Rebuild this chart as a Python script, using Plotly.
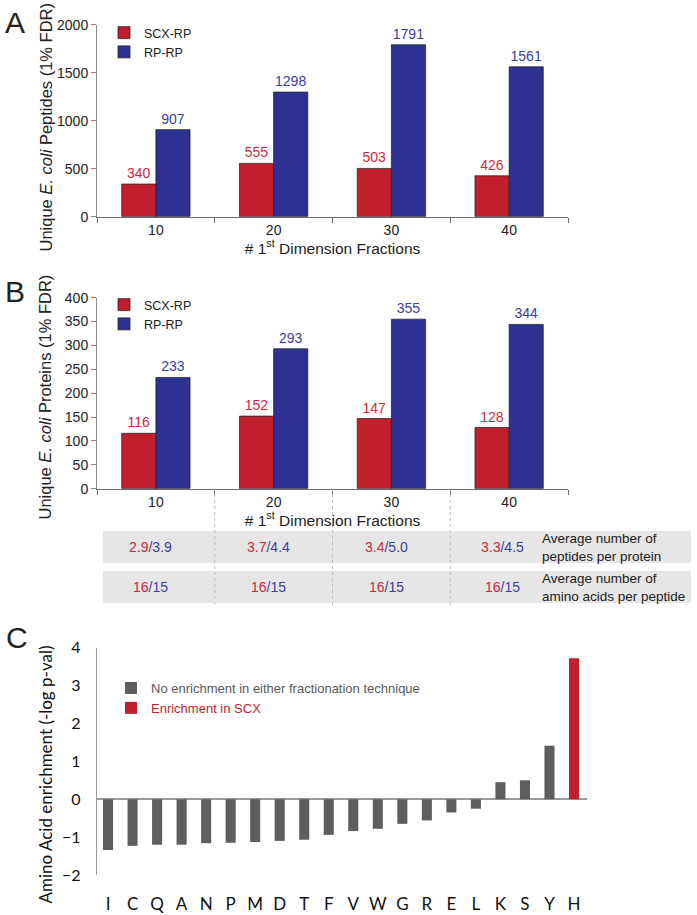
import plotly.graph_objects as go

# ---------------- data ----------------
fractions = ["10", "20", "30", "40"]
peptides_scx = [340, 555, 503, 426]
peptides_rp = [907, 1298, 1791, 1561]
proteins_scx = [116, 152, 147, 128]
proteins_rp = [233, 293, 355, 344]
pep_per_prot_scx = ["2.9", "3.7", "3.4", "3.3"]
pep_per_prot_rp = ["3.9", "4.4", "5.0", "4.5"]
aa_per_pep_scx = ["16", "16", "16", "16"]
aa_per_pep_rp = ["15", "15", "15", "15"]
table_row_labels = ["Average number of<br>peptides per protein",
                    "Average number of<br>amino acids per peptide"]

amino_acids = ["I", "C", "Q", "A", "N", "P", "M", "D", "T", "F",
               "V", "W", "G", "R", "E", "L", "K", "S", "Y", "H"]
enrichment = [-1.34, -1.23, -1.20, -1.20, -1.16, -1.15, -1.13, -1.10, -1.07, -0.94,
              -0.84, -0.78, -0.65, -0.56, -0.35, -0.25, 0.45, 0.50, 1.41, 3.72]
enriched_scx = ["H"]

# ---------------- style ----------------
W, H = 697, 915
RED = "#C11F2E"
BLUE = "#2E3192"
RED_TXT = "#CF2A3B"
BLUE_TXT = "#3D3DA6"
GRAY_BAR = "#5E5E5E"
AXIS_GRAY = "#8A8A8A"
FONT_AB = "Liberation Sans, Arial, sans-serif"
FONT_C = "Lato, Carlito, sans-serif"


def px_x(p):
    return p / W


def px_y(p):
    return 1 - p / H


fig = go.Figure()

# Panel A
fig.add_trace(go.Bar(x=fractions, y=peptides_scx, name="SCX-RP", marker=dict(color=RED, line=dict(color="#2a2a2a", width=0.8)),
                     text=peptides_scx, textposition="outside", textfont=dict(color=RED_TXT, size=14, family=FONT_AB),
                     cliponaxis=False, xaxis="x", yaxis="y", legend="legend"))
fig.add_trace(go.Bar(x=fractions, y=peptides_rp, name="RP-RP", marker=dict(color=BLUE, line=dict(color="#2a2a2a", width=0.8)),
                     text=peptides_rp, textposition="outside", textfont=dict(color=BLUE_TXT, size=14, family=FONT_AB),
                     cliponaxis=False, xaxis="x", yaxis="y", legend="legend"))
# Panel B
fig.add_trace(go.Bar(x=fractions, y=proteins_scx, name="SCX-RP", marker=dict(color=RED, line=dict(color="#2a2a2a", width=0.8)),
                     text=proteins_scx, textposition="outside", textfont=dict(color=RED_TXT, size=14, family=FONT_AB),
                     cliponaxis=False, xaxis="x2", yaxis="y2", legend="legend2"))
fig.add_trace(go.Bar(x=fractions, y=proteins_rp, name="RP-RP", marker=dict(color=BLUE, line=dict(color="#2a2a2a", width=0.8)),
                     text=proteins_rp, textposition="outside", textfont=dict(color=BLUE_TXT, size=14, family=FONT_AB),
                     cliponaxis=False, xaxis="x2", yaxis="y2", legend="legend2"))

# Panel C
no_x = [a for a in amino_acids if a not in enriched_scx]
no_y = [v for a, v in zip(amino_acids, enrichment) if a not in enriched_scx]
en_x = [a for a in amino_acids if a in enriched_scx]
en_y = [v for a, v in zip(amino_acids, enrichment) if a in enriched_scx]
fig.add_trace(go.Bar(x=no_x, y=no_y, name="No enrichment in either fractionation technique",
                     marker=dict(color=GRAY_BAR, line=dict(width=0)), width=0.41, offset=-0.205,
                     xaxis="x3", yaxis="y3", legend="legend3"))
fig.add_trace(go.Bar(x=en_x, y=en_y, name="<span style='color:%s'>Enrichment in SCX</span>" % RED,
                     marker=dict(color=RED, line=dict(width=0)), width=0.41, offset=-0.205,
                     xaxis="x3", yaxis="y3", legend="legend3"))

ab_x = dict(type="category", categoryorder="array", categoryarray=fractions, range=[-0.5, 3.5],
            domain=[px_x(97), px_x(568)], showline=True, linecolor="#6a6a6a", linewidth=1,
            ticks="outside", tickson="boundaries", ticklen=5, tickcolor="#6a6a6a",
            tickfont=dict(size=14, family=FONT_AB, color="#222"), automargin=False, showgrid=False, zeroline=False)
ab_y = dict(showline=True, linecolor=AXIS_GRAY, linewidth=1, ticks="outside", ticklen=5, tickcolor=AXIS_GRAY,
            tickfont=dict(size=14, family=FONT_AB, color="#222"), automargin=False, showgrid=False, zeroline=False)

xtitle = dict(text="# 1<sup>st</sup> Dimension Fractions", font=dict(size=15.5, family=FONT_AB, color="#222"), standoff=6)

fig.update_layout(
    width=W, height=H, margin=dict(l=0, r=0, t=0, b=0),
    paper_bgcolor="white", plot_bgcolor="rgba(0,0,0,0)",
    barmode="group", bargap=0.42, bargroupgap=0,
    font=dict(family=FONT_AB, color="#222"),
    xaxis=dict(ab_x, anchor="y", title=xtitle),
    yaxis=dict(ab_y, anchor="x", domain=[px_y(216.7), px_y(24.7)], range=[0, 2000], tickvals=[0, 500, 1000, 1500, 2000]),
    xaxis2=dict(ab_x, anchor="y2", title=xtitle),
    yaxis2=dict(ab_y, anchor="x2", domain=[px_y(488.7), px_y(297.7)], range=[0, 400], dtick=50),
    xaxis3=dict(type="category", categoryorder="array", categoryarray=amino_acids, range=[-0.45, 19.53],
                domain=[px_x(97), px_x(587)], anchor="y3", showline=False, ticks="", showgrid=False, zeroline=False,
                tickfont=dict(size=17, family=FONT_C, color="#111"), ticklabelstandoff=17, automargin=False),
    yaxis3=dict(anchor="x3", domain=[px_y(875), px_y(647.7)], range=[-2, 4], dtick=1, showline=True,
                linecolor="#9a9a9a", linewidth=1.3, ticks="", showgrid=False, zeroline=True, zerolinecolor="#9a9a9a",
                zerolinewidth=1.5, tickfont=dict(size=16, family=FONT_C, color="#111"), ticklabelstandoff=12,
                automargin=False),
    legend=dict(x=px_x(104), y=px_y(18), xanchor="left", yanchor="top", bgcolor="rgba(0,0,0,0)",
                font=dict(size=12.5, family=FONT_AB, color="#222"), tracegroupgap=0, itemclick=False),
    legend2=dict(x=px_x(104), y=px_y(290), xanchor="left", yanchor="top", bgcolor="rgba(0,0,0,0)",
                 font=dict(size=12.5, family=FONT_AB, color="#222"), tracegroupgap=0, itemclick=False),
    legend3=dict(x=px_x(111), y=px_y(673), xanchor="left", yanchor="top", bgcolor="rgba(0,0,0,0)",
                 font=dict(size=13, family=FONT_AB, color="#595959"), tracegroupgap=0, itemclick=False),
)

# y-axis titles
for txt, yc, size, fam, col in [("Unique <i>E. coli</i> Peptides (1% FDR)", 127.5, 16.5, FONT_AB, "#222"),
                                 ("Unique <i>E. coli</i> Proteins (1% FDR)", 397.5, 16.5, FONT_AB, "#222"),
                                 ("Amino Acid enrichment (-log p-val)", 774.5, 17, FONT_C, "#111")]:
    fig.add_annotation(text=txt, x=px_x(45), y=px_y(yc), xref="paper", yref="paper", showarrow=False,
                       textangle=-90, xanchor="center", yanchor="middle", font=dict(size=size, family=fam, color=col))

# panel letters
for letter, xp, yp in [("A", 15, 23), ("B", 15, 292), ("C", 17, 637)]:
    fig.add_annotation(text=letter, x=px_x(xp), y=px_y(yp), xref="paper", yref="paper", showarrow=False,
                       font=dict(size=30, family=FONT_AB, color="#222"), xanchor="center", yanchor="middle")

# table under panel B
rows = [(531, 563, pep_per_prot_scx, pep_per_prot_rp), (571, 603, aa_per_pep_scx, aa_per_pep_rp)]
for (top, bot, scx_vals, rp_vals), lab in zip(rows, table_row_labels):
    fig.add_shape(type="rect", xref="paper", yref="paper", x0=px_x(103), x1=px_x(691), y0=px_y(bot), y1=px_y(top),
                  fillcolor="#E6E6E6", line=dict(width=0), layer="below")
    for i in range(len(fractions)):
        fig.add_annotation(text="<span style='color:%s'>%s</span><span style='color:%s'>/%s</span>" % (RED_TXT, scx_vals[i], BLUE_TXT, rp_vals[i]),
                           x=i, xref="x2", xshift=-5 if i < 3 else -7, y=px_y((top + bot) / 2), yref="paper", showarrow=False,
                           font=dict(size=14, family=FONT_AB), xanchor="center", yanchor="middle")
    fig.add_annotation(text=lab, x=px_x(540), y=px_y((top + bot) / 2), xref="paper", yref="paper", showarrow=False,
                       align="left", xanchor="left", yanchor="middle", font=dict(size=13.5, family=FONT_AB, color="#222"))

for b in [0.5, 1.5, 2.5]:
    fig.add_shape(type="line", xref="x2", yref="paper", x0=b, x1=b, y0=px_y(605), y1=px_y(489),
                  line=dict(color="#BDBDBD", width=1, dash="3px,3px"))

fig.write_html("out.html", config={"displayModeBar": False},
               post_script="document.body.style.margin='0';document.body.style.overflow='hidden';")
